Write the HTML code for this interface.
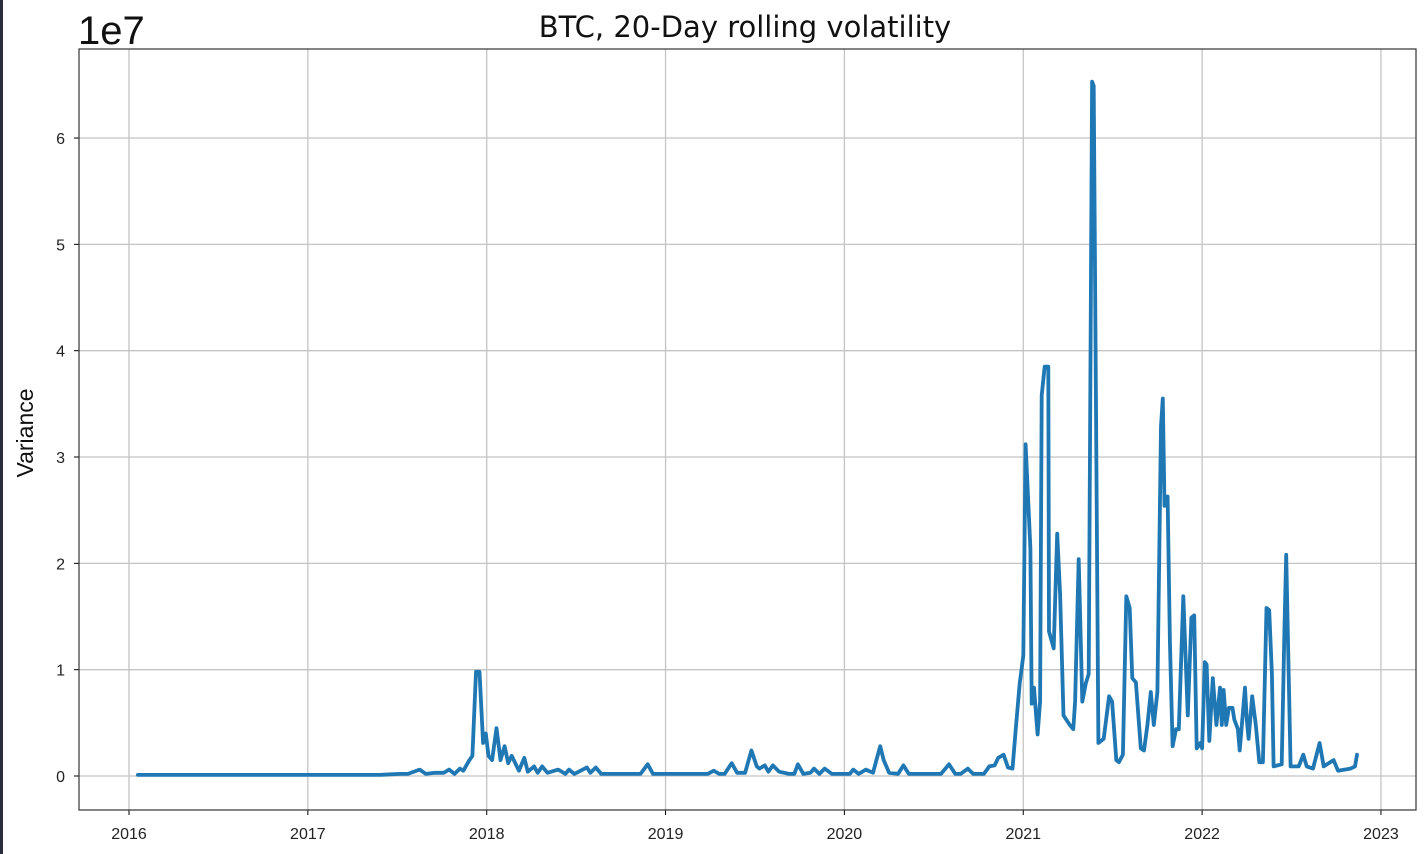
<!DOCTYPE html>
<html><head><meta charset="utf-8"><style>
html,body{margin:0;padding:0;background:#fff;}
body{width:1428px;height:854px;overflow:hidden;position:relative;font-family:"Liberation Sans","DejaVu Sans",sans-serif;}
#lb{position:absolute;left:0;top:0;width:3px;height:854px;background:#2a2d3e;}
</style></head><body>
<div id="lb"></div>
<svg id="chart" width="1428" height="854" style="position:absolute;left:0;top:0"></svg>
<script>
// data: years (decimal) and variance in 1e7 units
const years = [2016.05,2017.0,2017.4,2017.515,2017.56,2017.625,2017.66,2017.71,2017.76,2017.79,2017.82,2017.85,2017.87,2017.90,2017.92,2017.94,2017.96,2017.98,2017.995,2018.01,2018.03,2018.055,2018.077,2018.10,2018.12,2018.14,2018.18,2018.21,2018.23,2018.265,2018.285,2018.31,2018.34,2018.40,2018.44,2018.46,2018.49,2018.56,2018.58,2018.61,2018.64,2018.71,2018.86,2018.90,2018.93,2019.235,2019.27,2019.30,2019.33,2019.37,2019.40,2019.445,2019.48,2019.51,2019.525,2019.555,2019.575,2019.60,2019.635,2019.69,2019.72,2019.74,2019.77,2019.81,2019.83,2019.86,2019.89,2019.93,2020.03,2020.05,2020.08,2020.12,2020.16,2020.20,2020.22,2020.25,2020.30,2020.33,2020.36,2020.54,2020.585,2020.62,2020.65,2020.69,2020.72,2020.78,2020.81,2020.84,2020.86,2020.89,2020.915,2020.94,2020.96,2020.98,2021.0,2021.013,2021.04,2021.047,2021.06,2021.08,2021.094,2021.103,2021.12,2021.14,2021.144,2021.17,2021.19,2021.206,2021.225,2021.26,2021.28,2021.29,2021.31,2021.33,2021.35,2021.366,2021.385,2021.394,2021.42,2021.45,2021.48,2021.497,2021.52,2021.535,2021.557,2021.576,2021.595,2021.61,2021.63,2021.657,2021.675,2021.694,2021.713,2021.73,2021.75,2021.77,2021.78,2021.79,2021.807,2021.82,2021.835,2021.854,2021.87,2021.895,2021.92,2021.94,2021.956,2021.97,2021.99,2022.0,2022.015,2022.025,2022.04,2022.06,2022.08,2022.10,2022.11,2022.12,2022.135,2022.15,2022.17,2022.18,2022.20,2022.21,2022.24,2022.25,2022.26,2022.28,2022.30,2022.32,2022.34,2022.36,2022.375,2022.39,2022.40,2022.445,2022.46,2022.47,2022.495,2022.54,2022.566,2022.585,2022.62,2022.657,2022.68,2022.735,2022.76,2022.83,2022.855,2022.866];
const variance = [0.01,0.01,0.01,0.02,0.02,0.06,0.02,0.03,0.03,0.06,0.02,0.07,0.05,0.14,0.19,0.98,0.98,0.31,0.40,0.19,0.15,0.45,0.15,0.28,0.12,0.19,0.05,0.17,0.04,0.09,0.03,0.09,0.03,0.06,0.02,0.06,0.02,0.08,0.03,0.08,0.02,0.02,0.02,0.11,0.02,0.02,0.05,0.02,0.02,0.12,0.03,0.03,0.24,0.09,0.07,0.10,0.04,0.10,0.04,0.02,0.02,0.11,0.02,0.03,0.07,0.02,0.07,0.02,0.02,0.06,0.02,0.06,0.03,0.28,0.15,0.03,0.02,0.10,0.02,0.02,0.11,0.02,0.02,0.07,0.02,0.02,0.09,0.10,0.17,0.20,0.08,0.07,0.48,0.87,1.13,3.12,2.14,0.68,0.83,0.39,0.70,3.58,3.85,3.85,1.36,1.20,2.28,1.71,0.57,0.48,0.44,0.70,2.04,0.70,0.87,0.96,6.53,6.49,0.31,0.35,0.75,0.70,0.15,0.13,0.20,1.69,1.58,0.92,0.88,0.26,0.24,0.48,0.79,0.48,0.79,3.29,3.55,2.54,2.63,1.27,0.28,0.44,0.44,1.69,0.57,1.49,1.51,0.26,0.31,0.26,1.07,1.05,0.33,0.92,0.48,0.83,0.48,0.81,0.48,0.64,0.64,0.53,0.44,0.24,0.83,0.53,0.35,0.75,0.48,0.13,0.13,1.58,1.56,0.96,0.09,0.11,1.36,2.08,0.09,0.09,0.20,0.09,0.07,0.31,0.09,0.15,0.05,0.07,0.09,0.20];
const xTicks = [2016,2017,2018,2019,2020,2021,2022,2023];
const yTicks = [0,1,2,3,4,5,6];

const NS='http://www.w3.org/2000/svg';
const svg=document.getElementById('chart');
const L=79,R=1416,T=49,B=810;
function xs(y){return 129+(y-2016)*178.85;}
function ys(v){return 776-v*106.33;}
function mk(tag,attrs,parent){const e=document.createElementNS(NS,tag);for(const k in attrs)e.setAttribute(k,attrs[k]);(parent||svg).appendChild(e);return e;}

const grid=mk('g',{});


xTicks.forEach(t=>{
  const x=xs(t);
  const gl=mk('line',{x1:x,x2:x,y1:T,y2:B,stroke:'#c4c4c4','stroke-width':1.3},grid);
  
  
  mk('line',{x1:x,x2:x,y1:B,y2:B+5,stroke:'#000','stroke-width':1});
  const tx=mk('text',{x:x,y:B+29,'text-anchor':'middle','font-size':16,fill:'#222'});
  tx.textContent=t;
  
  
});
yTicks.forEach(t=>{
  const y=ys(t);
  const gl=mk('line',{x1:L,x2:R,y1:y,y2:y,stroke:'#c4c4c4','stroke-width':1.3},grid);
  
  
  mk('line',{x1:L-5,x2:L,y1:y,y2:y,stroke:'#000','stroke-width':1});
  const tx=mk('text',{x:L-14,y:y+6,'text-anchor':'end','font-size':16,fill:'#222'});
  tx.textContent=t;
  
  
});

let d='';
years.forEach((yr,i)=>{d+=(i?'L':'M')+xs(yr).toFixed(1)+','+ys(variance[i]).toFixed(1);});
const line=mk('path',{d:d,fill:'none',stroke:'#1f77b4','stroke-width':3.8,'stroke-linejoin':'round','stroke-linecap':'round'});



const frame=mk('rect',{x:L,y:T,width:R-L,height:B-T,fill:'none',stroke:'#333','stroke-width':1.2});



const title=mk('text',{x:745,y:37,'text-anchor':'middle','font-size':29,fill:'#111','font-family':'DejaVu Sans, sans-serif'});
title.textContent='BTC, 20-Day rolling volatility';



const off=mk('text',{x:78,y:44,'font-size':40,fill:'#111'});
off.textContent='1e7';



const yl=mk('text',{x:33,y:433,'text-anchor':'middle','font-size':23,fill:'#111',transform:'rotate(-90 33 433)'});
yl.textContent='Variance';


</script>
</body></html>
